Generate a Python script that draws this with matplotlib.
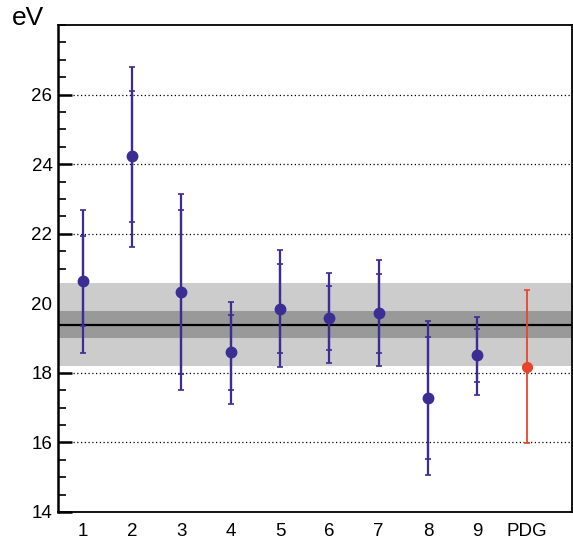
import matplotlib
matplotlib.use("Agg")
import matplotlib.pyplot as plt
from matplotlib.ticker import MultipleLocator
import numpy as np

plt.rcParams['font.family'] = ['Liberation Sans', 'DejaVu Sans']

labels = ["1", "2", "3", "4", "5", "6", "7", "8", "9"]
values = [20.65, 24.24, 20.33, 18.59, 19.85, 19.58, 19.72, 17.27, 18.50]
inner_hi = [21.93, 26.11, 22.69, 19.65, 21.12, 20.51, 20.84, 19.03, 19.25]
inner_lo = [19.36, 22.34, 17.96, 17.52, 18.58, 18.66, 18.58, 15.53, 17.75]
outer_hi = [22.69, 26.80, 23.15, 20.05, 21.53, 20.88, 21.23, 19.50, 19.62]
outer_lo = [18.58, 21.62, 17.51, 17.10, 18.18, 18.29, 18.19, 15.07, 17.37]

pdg_label = "PDG"
pdg_value = 18.18
pdg_hi = 20.39
pdg_lo = 15.98

mean_value = 19.39
inner_band = 0.40
outer_band = 1.18

blue = "#3c2d95"
red = "#e8442a"

fig = plt.figure(figsize=(5.73, 5.45), dpi=100)
ax = fig.add_axes([58/573, (545-512)/545, (572-58)/573, (512-25)/545])

x = np.arange(1, len(values) + 1)
vals = np.array(values)

ax.grid(axis="y", which="major", linestyle=(0, (1, 2)), color="black", lw=0.9)
ax.set_axisbelow(True)

ax.axhspan(mean_value - outer_band, mean_value + outer_band, color="#cccccc", zorder=1, lw=0)
ax.axhspan(mean_value - inner_band, mean_value + inner_band, color="#999999", zorder=1.1, lw=0)
ax.axhline(mean_value, color="black", lw=1.6, zorder=1.2)

ax.errorbar(x, vals, yerr=[vals - np.array(outer_lo), np.array(outer_hi) - vals],
            fmt="none", ecolor=blue, elinewidth=1.6, capsize=2.5, capthick=1.2, zorder=3)
ax.errorbar(x, vals, yerr=[vals - np.array(inner_lo), np.array(inner_hi) - vals],
            fmt="none", ecolor=blue, elinewidth=1.6, capsize=2.5, capthick=1.2, zorder=3)
ax.plot(x, vals, "o", color=blue, ms=7.5, zorder=4)

xp = len(values) + 1
ax.errorbar([xp], [pdg_value], yerr=[[pdg_value - pdg_lo], [pdg_hi - pdg_value]],
            fmt="o", color=red, ecolor=red, ms=7, elinewidth=1.3, capsize=2.5, capthick=1.2, zorder=4)

ax.set_xlim(0.5, 10.92)
ax.set_ylim(14, 28)

ax.set_xticks(list(x) + [xp])
ax.set_xticklabels(labels + [pdg_label], fontsize=13.5)
ax.tick_params(axis="x", length=0, pad=8)

ax.yaxis.set_major_locator(MultipleLocator(2))
ax.yaxis.set_minor_locator(MultipleLocator(0.5))
ax.set_yticks([14, 16, 18, 20, 22, 24, 26])
ax.tick_params(axis="y", which="major", direction="in", length=10, width=1.8, labelsize=13.5, pad=4)
ax.tick_params(axis="y", which="minor", direction="in", length=5.5, width=1.2)
ax.tick_params(right=False, top=False)

for side, sp in ax.spines.items():
    sp.set_linewidth(1.3)
    sp.set_zorder(5)
ax.spines["left"].set_linewidth(1.8)

fig.text(12/573, 1 - 18/545, "eV", fontsize=19, va="center", ha="left")

fig.savefig("out.png", dpi=100)
